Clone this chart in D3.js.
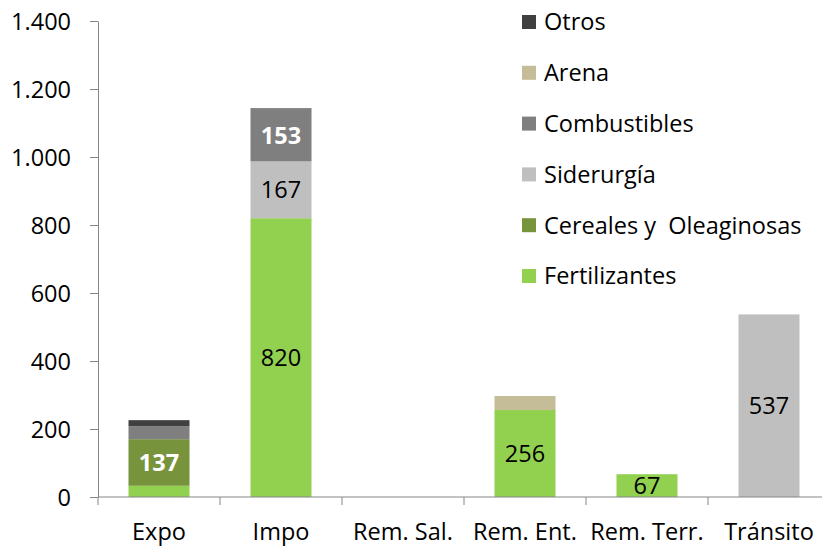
<!DOCTYPE html>
<html><head><meta charset="utf-8">
<script src="https://cdn.jsdelivr.net/npm/d3@7"></script>
<style>body{margin:0;background:#fff}svg{display:block}text{font-family:"Open Sans",Lato,sans-serif}</style>
</head><body><svg id="c" width="822" height="546"></svg>
<script>
const categories = ["Expo","Impo","Rem. Sal.","Rem. Ent.","Rem. Terr.","Tránsito"];
const seriesNames = ["Fertilizantes","Cereales y  Oleaginosas","Siderurgía","Combustibles","Arena","Otros"];
const fertilizantes = [33, 820, 0, 256, 67, 0];
const cereales      = [137, 0, 0, 0, 0, 0];
const siderurgia    = [0, 167, 0, 0, 0, 537];
const combustibles  = [38, 153, 0, 0, 0, 0];
const arena         = [0, 0, 0, 41, 0, 0];
const otros         = [18, 3, 0, 0, 0, 0];
const yTicks = [0,200,400,600,800,1000,1200,1400];
const colors = ["#92D050","#77933C","#BFBFBF","#7F7F7F","#C4BD97","#404040"];
const whiteLabel = [false,true,false,true,false,false];

const seriesValues = [fertilizantes,cereales,siderurgia,combustibles,arena,otros];
const rows = categories.map((c,i)=>{const r={cat:c}; seriesNames.forEach((s,j)=>r[s]=seriesValues[j][i]); return r;});
const stack = d3.stack().keys(seriesNames)(rows);

const svg = d3.select("#c");
const L=98, R=830, T=21, B=497;
const FS=23.5;
const y = d3.scaleLinear().domain([0,1400]).range([B,T]);
const x = d3.scaleBand().domain(categories).range([L,R]).paddingInner(0.5).paddingOuter(0.25);
const xEdges = d3.scaleBand().domain(categories).range([L,R]).padding(0);
const loc = d3.formatLocale({decimal:",",thousands:".",grouping:[3],currency:["",""]});
const fmt = loc.format(",d");
const axisColor="#868686";

// y axis
const ya = svg.append("g").attr("transform",`translate(${L},0)`)
  .call(d3.axisLeft(y).tickValues(yTicks).tickFormat(fmt).tickSize(8).tickPadding(19).tickSizeOuter(0));
ya.select(".domain").attr("stroke",axisColor);
ya.selectAll(".tick line").attr("stroke",axisColor);
ya.selectAll(".tick text").attr("font-size",FS).attr("fill","#000").attr("font-family","Open Sans").attr("dy","0.34em");

// bars
const g = svg.append("g");
stack.forEach((s,j)=>{
  g.selectAll(null).data(s).enter().append("rect")
    .attr("x",d=>x(d.data.cat)).attr("width",x.bandwidth())
    .attr("y",d=>y(d[1])).attr("height",d=>Math.max(0,y(d[0])-y(d[1])))
    .attr("fill",colors[j]);
});
// labels
stack.forEach((s,j)=>{
  g.selectAll(null).data(s.filter(d=>(d[1]-d[0])>=60)).enter().append("text")
    .attr("x",d=>x(d.data.cat)+x.bandwidth()/2)
    .attr("y",d=>(y(d[0])+y(d[1]))/2)
    .attr("dy","0.36em").attr("text-anchor","middle")
    .attr("font-size",FS)
    .attr("font-weight",whiteLabel[j]?"bold":"normal")
    .attr("fill",whiteLabel[j]?"#fff":"#000")
    .text(d=>fmt(d[1]-d[0]));
});

// x axis
const xa = svg.append("g").attr("transform",`translate(0,${B})`);
xa.append("line").attr("x1",L).attr("x2",R).attr("stroke",axisColor);
const edges = categories.map(c=>xEdges(c)).concat([R]);
xa.selectAll(".tk").data(edges).enter().append("line")
  .attr("x1",d=>d).attr("x2",d=>d).attr("y1",0).attr("y2",8).attr("stroke",axisColor);
xa.selectAll(".lb").data(categories).enter().append("text")
  .attr("x",c=>x(c)+x.bandwidth()/2).attr("y",43)
  .attr("text-anchor","middle").attr("font-size",FS).attr("fill","#000").text(c=>c);

// legend
const legOrder = d3.range(seriesNames.length).reverse();
const lg = svg.append("g");
legOrder.forEach((j,k)=>{
  const cy = 22 + k*50.8;
  lg.append("rect").attr("x",522).attr("y",cy-7).attr("width",14).attr("height",14).attr("fill",colors[j]);
  lg.append("text").attr("x",544).attr("y",cy).attr("dy","0.36em").attr("font-size",FS).attr("fill","#000")
    .attr("xml:space","preserve").style("white-space","pre").text(seriesNames[j]);
});
</script></body></html>
